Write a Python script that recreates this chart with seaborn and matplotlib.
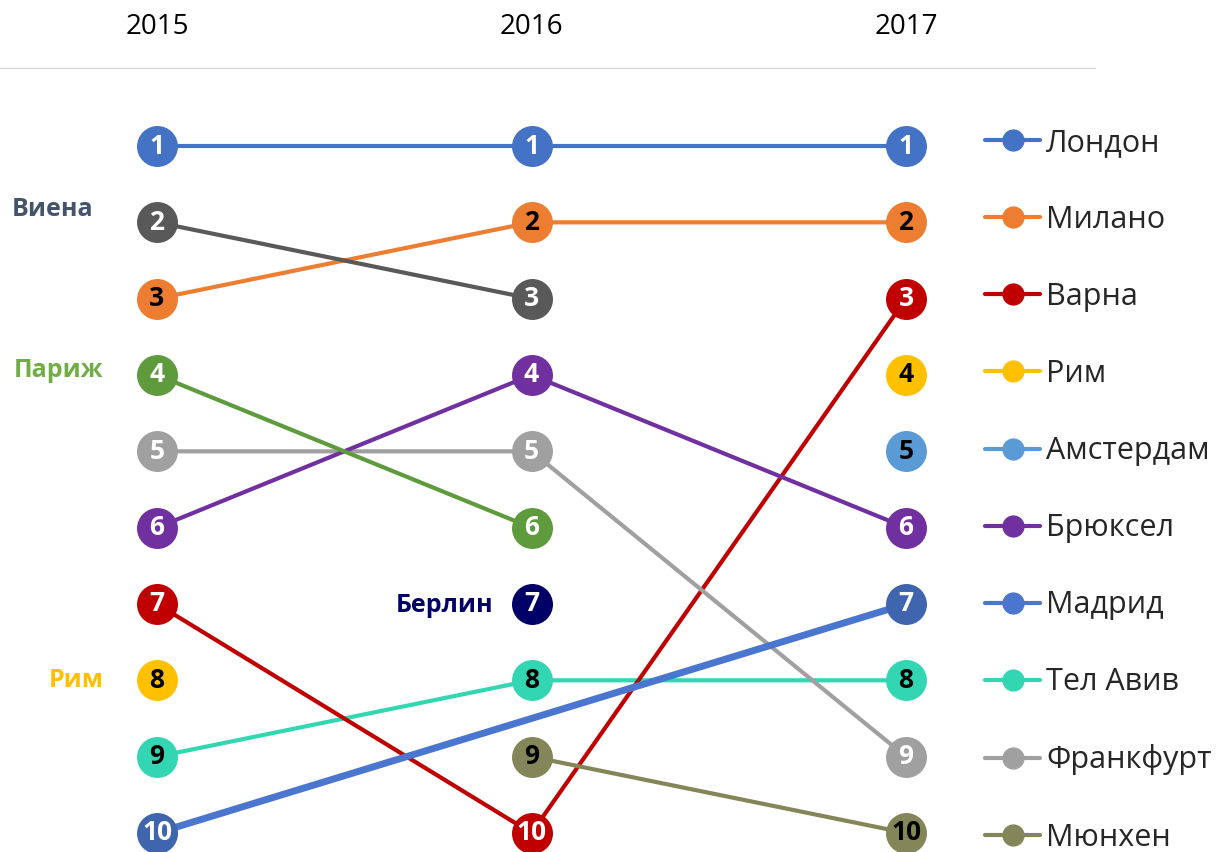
import numpy as np
import pandas as pd
import matplotlib
matplotlib.use('Agg')
from matplotlib import pyplot as plt
from matplotlib.lines import Line2D
from matplotlib import font_manager
import seaborn as sns

sns.set_theme(style="white")

# pick a family that actually has a bold face installed
bold_family = 'DejaVu Sans'
for fam in ['Noto Sans', 'Open Sans', 'Lato', 'Roboto', 'Liberation Sans']:
    faces = [f for f in font_manager.fontManager.ttflist if f.name == fam]
    if any(f.weight in (700, 'bold') for f in faces) and faces:
        bold_family = fam
        break
plt.rcParams['font.family'] = [bold_family, 'DejaVu Sans']

years = ['2015', '2016', '2017']
cities = ['Лондон', 'Милано', 'Варна', 'Рим', 'Амстердам', 'Брюксел', 'Мадрид',
          'Тел Авив', 'Франкфурт', 'Мюнхен', 'Виена', 'Париж', 'Берлин']
rank_2015 = [1, 3, 7, 8, np.nan, 6, 10, 9, 5, np.nan, 2, 4, np.nan]
rank_2016 = [1, 2, 10, np.nan, np.nan, 4, np.nan, 8, 5, 9, 3, 6, 7]
rank_2017 = [1, 2, 3, 4, 5, 6, 7, 8, 9, 10, np.nan, np.nan, np.nan]

colors = ['#4472C4', '#ED7D31', '#C00000', '#FFC000', '#5B9BD5', '#7030A0', '#3F65AE',
          '#33D6B2', '#A0A0A0', '#85855A', '#595959', '#5E9B3C', '#000066']
num_colors = ['white', 'black', 'white', 'black', 'black', 'white', 'white',
              'black', 'white', 'black', 'white', 'white', 'white']
line_colors = dict(zip(cities, colors))
line_colors['Мадрид'] = '#4A76CF'

legend_cities = cities[:10]
line_order = ['Лондон', 'Милано', 'Тел Авив', 'Варна', 'Франкфурт', 'Брюксел',
              'Мюнхен', 'Мадрид', 'Виена', 'Париж']

# side labels: city, year index, colour, offset in px (dx of right edge, dy)
side_labels = [('Виена', 0, '#44546A', -64, 13),
               ('Париж', 0, '#70AD47', -54, 4),
               ('Рим', 0, '#FFC000', -53, 0),
               ('Берлин', 1, '#000066', -38, -2)]

df = pd.DataFrame({
    'city': np.repeat(cities, 3),
    'x': [0, 1, 2] * len(cities),
    'rank': np.column_stack([rank_2015, rank_2016, rank_2017]).ravel(),
})

fig = plt.figure(figsize=(12.22, 8.52), dpi=100)
ax = fig.add_axes([0, 0, 1, 1])

for z, c in enumerate(line_order):
    sub = df[df.city == c].dropna()
    lw = 5 if c == 'Мадрид' else 3
    sns.lineplot(data=sub, x='x', y='rank', color=line_colors[c], linewidth=lw,
                 ax=ax, legend=False, zorder=2 + z * 0.01)

for c, col, ncol in zip(cities, colors, num_colors):
    sub = df[df.city == c].dropna()
    ax.scatter(sub.x, sub['rank'], s=870, color=col, linewidths=0, zorder=3)
    for _, r in sub.iterrows():
        ax.text(r.x, r['rank'], f"{int(r['rank'])}", ha='center', va='center',
                fontsize=19, fontweight='bold', color=ncol, zorder=4)

for name, xi, col, dx, dy in side_labels:
    rk = df[(df.city == name) & (df.x == xi)]['rank'].iloc[0]
    ax.annotate(name, (xi, rk), xytext=(dx * 0.72, dy * 0.72), textcoords='offset points',
                ha='right', va='center', fontsize=18, fontweight='bold', color=col)

for i, y in enumerate(years):
    ax.text(i, 1 - 27 / 852, y, transform=ax.get_xaxis_transform(),
            ha='center', va='center', fontsize=20, color='black')

fig.add_artist(Line2D([0, 1095 / 1222], [1 - 68 / 852] * 2, transform=fig.transFigure,
                      color='#D9D9D9', lw=1))

handles = [Line2D([], [], color=line_colors[c], lw=3, marker='o', markersize=16,
                  markerfacecolor=line_colors[c], markeredgewidth=0) for c in legend_cities]
ax.legend(handles, legend_cities, loc='upper left', bbox_to_anchor=(985 / 1222, 1 - 128 / 852),
          frameon=False, fontsize=22, handlelength=1.8, handletextpad=0.2,
          labelspacing=1.54, borderaxespad=0, borderpad=0)

ax.set_xlim(-157 / 374.5, (1222 - 157) / 374.5)
ax.set_ylim(1 + (852 - 146) / 76.33, 1 - 146 / 76.33)
ax.set_axis_off()

fig.savefig('out.png', dpi=100)
